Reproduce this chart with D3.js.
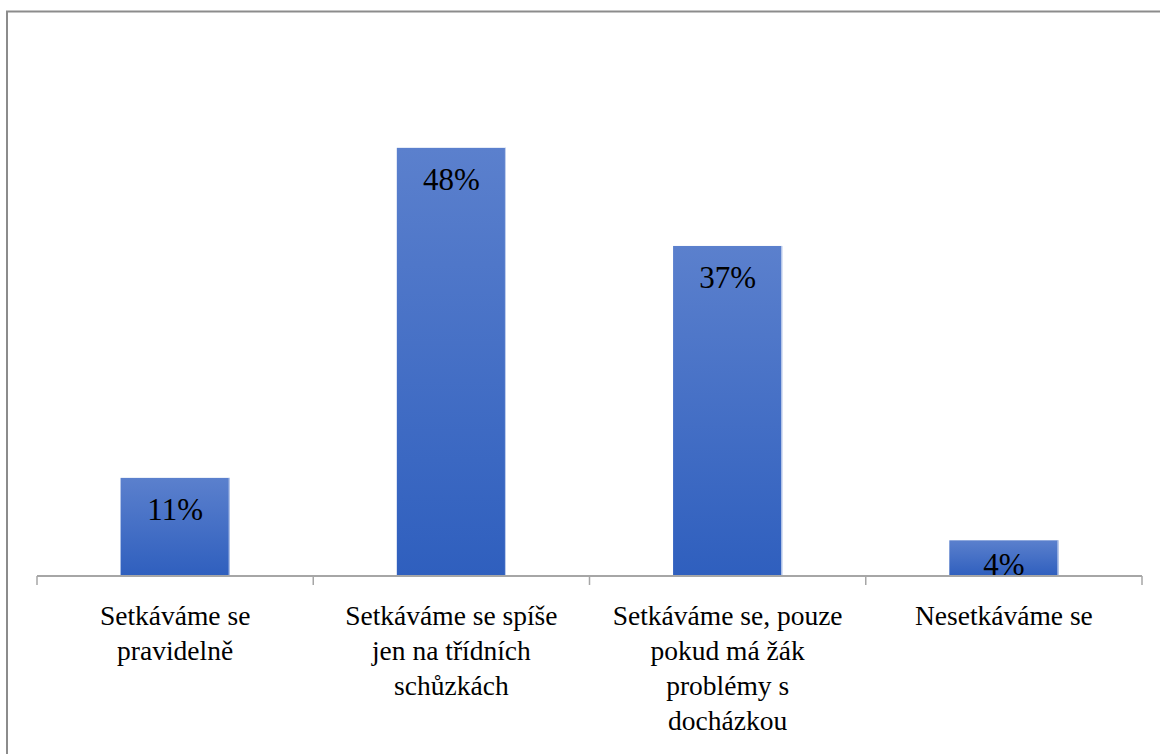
<!DOCTYPE html>
<html><head><meta charset="utf-8">
<script src="https://cdn.jsdelivr.net/npm/d3@7"></script>
<style>
body{margin:0;background:#fff;font-family:"Liberation Serif",serif}
svg{display:block;font-family:"Liberation Serif",serif}
</style>
</head><body>
<script>
const categories = [
  ["Setkáváme se", "pravidelně"],
  ["Setkáváme se spíše", "jen na třídních", "schůzkách"],
  ["Setkáváme se, pouze", "pokud má žák", "problémy s", "docházkou"],
  ["Nesetkáváme se"]
];
const values = [11, 48, 37, 4];
const valueLabels = ["11%", "48%", "37%", "4%"];

const W = 1160, H = 754;
const svg = d3.select("body").append("svg").attr("width", W).attr("height", H)
  .attr("font-family", "Liberation Serif");

const defs = svg.append("defs");
const grad = defs.append("linearGradient").attr("id", "bg").attr("x1", 0).attr("y1", 0).attr("x2", 0).attr("y2", 1);
grad.append("stop").attr("offset", "0%").attr("stop-color", "#5b80cd");
grad.append("stop").attr("offset", "100%").attr("stop-color", "#2f5fbe");

// outer border (only top & left visible)
svg.append("rect").attr("x", 7).attr("y", 11.5).attr("width", W + 20).attr("height", H + 20)
  .attr("fill", "none").attr("stroke", "#8c8c8c").attr("stroke-width", 2);

const x0 = 37, x1 = 1142, yBase = 576;
const idx = d3.range(categories.length);
const band = d3.scaleBand().domain(idx).range([x0, x1]);
const x = d3.scaleBand().domain(idx).range([x0, x1]).paddingInner(0.605).paddingOuter(0.3025);
const y = d3.scaleLinear().domain([0, 50]).range([yBase, yBase - 446]);

// bars
svg.append("g").selectAll("rect").data(values).join("rect")
  .attr("x", (d, i) => x(i))
  .attr("y", d => y(d))
  .attr("width", x.bandwidth())
  .attr("height", d => yBase - y(d))
  .attr("fill", "url(#bg)");
svg.append("g").selectAll("line").data(values).join("line")
  .attr("x1", (d, i) => x(i) + x.bandwidth() - 0.5)
  .attr("x2", (d, i) => x(i) + x.bandwidth() - 0.5)
  .attr("y1", d => y(d)).attr("y2", yBase)
  .attr("stroke", "#c9d5ef").attr("stroke-width", 1);

// axis
svg.append("line").attr("x1", x0).attr("x2", x1).attr("y1", yBase).attr("y2", yBase)
  .attr("stroke", "#a6a6a6").attr("stroke-width", 2);
const ticks = idx.map(i => band(i)).concat([x1]);
svg.append("g").selectAll("line").data(ticks).join("line")
  .attr("x1", d => d).attr("x2", d => d).attr("y1", yBase).attr("y2", yBase + 9)
  .attr("stroke", "#a6a6a6").attr("stroke-width", 1.5);

// value labels
svg.append("g").selectAll("text").data(values).join("text")
  .attr("x", (d, i) => x(i) + x.bandwidth() / 2)
  .attr("y", d => Math.min(y(d) + 42, yBase - 1))
  .attr("text-anchor", "middle")
  .style("font-family", "Liberation Serif")
  .attr("font-size", 31).attr("fill", "#000")
  .text((d, i) => valueLabels[i]);

// category labels
categories.forEach((lines, i) => {
  const t = svg.append("text").attr("x", band(i) + band.bandwidth() / 2).attr("y", 625)
    .style("font-family", "Liberation Serif")
    .attr("font-size", 27.5).attr("fill", "#000").attr("text-anchor", "middle");
  lines.forEach((l, j) => t.append("tspan").attr("x", band(i) + band.bandwidth() / 2).attr("dy", j === 0 ? 0 : 35).text(l));
});
</script>
</body></html>
